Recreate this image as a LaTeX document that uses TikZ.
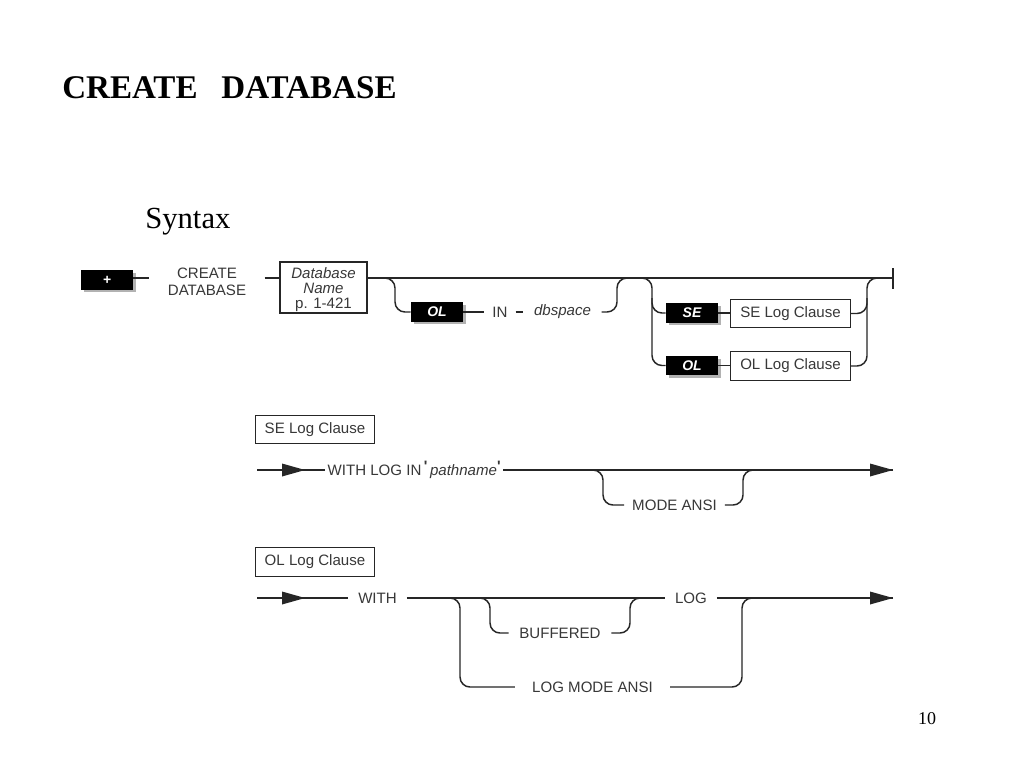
\documentclass[tikz,border=0pt]{standalone}
\usepackage{fontspec}
\setmainfont{Liberation Serif}
\newfontfamily\rrf{Liberation Sans}
\usetikzlibrary{shadows,calc}
\definecolor{linec}{HTML}{262626}
\definecolor{txtc}{HTML}{383838}
\begin{document}
\begin{tikzpicture}[x=0.75pt,y=-0.75pt,
  rr/.style={draw=linec,line width=1.1pt},
  rrc/.style={rr,rounded corners=7.5pt},
  rtxt/.style={font=\rrf\fontsize{11.3}{13}\selectfont,text=txtc,inner ysep=0pt,inner xsep=0pt,outer sep=0pt},
  blk/.style={fill=black,text=white,font=\rrf\bfseries\itshape\fontsize{10.5}{12}\selectfont,
    minimum width=39pt,minimum height=14.5pt,inner sep=0pt,
    drop shadow={shadow xshift=2pt,shadow yshift=-2pt,fill=black!60,opacity=0.5}},
  wbox/.style={draw=linec,line width=0.9pt,fill=white,text=txtc,font=\rrf\fontsize{11.3}{13}\selectfont,
    minimum width=89.5pt,minimum height=21.5pt,inner sep=0pt},
  tri/.style={fill=linec}
]
\useasboundingbox[fill=white] (0,0) rectangle (1024,768);

% titles
\node[anchor=base west,font=\bfseries\fontsize{24.8}{30}\selectfont,inner sep=0pt] (title) at (62,98) {CREATE\hspace{0.72em}DATABASE};
\node[anchor=base west,font=\fontsize{23}{28}\selectfont,inner sep=0pt] (syn) at (145,228) {Syntax};
\node[anchor=base,font=\fontsize{13.5}{16}\selectfont,inner sep=0pt] (pg) at (927,724) {10};

% ---------- main diagram ----------
\coordinate (m0) at (0,278);
\node[blk] (plus) at (107,280) {+};
\node[rtxt,align=center,font=\rrf\fontsize{11.3}{12.75}\selectfont,inner xsep=14pt] (create) at (207,282) {CREATE\\DATABASE};
\node[draw=linec,line width=0.9pt,rtxt,align=center,font=\rrf\fontsize{11.3}{11.25}\selectfont,
  minimum width=65.25pt,minimum height=38.25pt] (db) at (323.5,287.5) {\rule{0pt}{11.5pt}\textit{Database}\\\textit{Name}\\p. 1-421};
\coordinate (endbar) at (893,278);

\draw[rr] (plus.east |- m0) -- (create.west |- m0);
\draw[rr] (create.east |- m0) -- (db.west |- m0);
\draw[rr] (db.east |- m0) -- (endbar);
\draw[rr] ($(endbar)+(0,-10)$) -- ($(endbar)+(0,11)$);

% OL IN dbspace branch
\node[blk] (ol1) at (437,312) {OL};
\node[rtxt,inner xsep=6pt] (in) at (500,312) {IN};
\node[rtxt,inner xsep=8pt] (dbs) at (562.5,312) {\textit{dbspace}};
\coordinate (b1a) at (380,278);
\coordinate (b1v) at (395,278);
\coordinate (b1e) at (617,278);
\draw[rrc] (b1a) -- (b1v) -- (b1v |- ol1.west) -- (ol1.west);
\draw[rr] (ol1.east) -- (ol1.east -| in.west);
\draw[rr] (in.east) -- (in.east -| dbs.west);
\draw[rrc] (dbs.east) -- (dbs.east -| b1e) -- (b1e) -- ($(b1e)+(14,0)$);

% SE / OL branch
\node[blk] (se) at (692,313) {SE};
\node[wbox] (selc) at (790.5,313.5) {SE Log Clause};
\node[blk] (ol2) at (692,365.5) {OL};
\node[wbox] (olc) at (790.5,366) {OL Log Clause};
\coordinate (b2v) at (652,278);
\coordinate (b3v) at (867,278);
\draw[rrc] ($(b2v)+(-14,0)$) -- (b2v) -- (b2v |- ol2.west) -- (ol2.west);
\draw[rrc] ($(b2v)+(0,20)$) -- (b2v |- se.west) -- (se.west);
\draw[rr] (se.east) -- (se.east -| selc.west);
\draw[rr] (ol2.east) -- (ol2.east -| olc.west);
\draw[rrc] (selc.east) -- (selc.east -| b3v) -- (b3v) -- ($(b3v)+(14,0)$);
\draw[rrc] (olc.east) -- (olc.east -| b3v) -- ($(b3v)+(0,20)$);

% ---------- SE Log Clause ----------
\node[wbox] (hdr1) at (315,429.5) {SE Log Clause};
\coordinate (s1) at (257,470);
\coordinate (a1) at (282,470);
\coordinate (e1) at (893,470);
\node[rtxt,anchor=west,inner xsep=2pt] (wl) at (325,470) {WITH LOG IN\,\raisebox{2.5pt}{\textbf{'}}\,\textit{pathname}\raisebox{2.5pt}{\textbf{'}}};
\draw[rr] (s1) -- (wl.west);
\draw[rr] (wl.east) -- (e1);
\fill[tri] (a1) ++(0,-6.5) -- ++(23,6.5) -- ++(-23,6.5) -- cycle;
\fill[tri] (e1) -- ++(-23,-6.5) -- ++(0,13) -- cycle;
\node[rtxt,inner xsep=6pt] (ma) at (674.5,505) {MODE ANSI};
\coordinate (c1) at (603,470);
\coordinate (c2) at (743,470);
\draw[rrc] ($(c1)+(-14,0)$) -- (c1) -- (c1 |- ma.west) -- (ma.west);
\draw[rrc] (ma.east) -- (ma.east -| c2) -- (c2) -- ($(c2)+(14,0)$);

% ---------- OL Log Clause ----------
\node[wbox] (hdr2) at (315,562) {OL Log Clause};
\coordinate (s2) at (257,598);
\coordinate (a2) at (282,598);
\coordinate (e2) at (893,598);
\node[rtxt,inner xsep=7.5pt] (with) at (377.5,598) {WITH};
\node[rtxt,inner xsep=7.5pt] (log) at (691,598) {LOG};
\draw[rr] (s2) -- (with.west);
\draw[rr] (with.east) -- (log.west);
\draw[rr] (log.east) -- (e2);
\fill[tri] (a2) ++(0,-6.5) -- ++(23,6.5) -- ++(-23,6.5) -- cycle;
\fill[tri] (e2) -- ++(-23,-6.5) -- ++(0,13) -- cycle;

\node[rtxt,inner xsep=8pt] (buf) at (560,633) {BUFFERED};
\coordinate (d1) at (490,598);
\coordinate (d2) at (630,598);
\draw[rrc] ($(d1)+(-14,0)$) -- (d1) -- (d1 |- buf.west) -- (buf.west);
\draw[rrc] (buf.east) -- (buf.east -| d2) -- (d2) -- ($(d2)+(14,0)$);

\node[rtxt,inner xsep=13pt] (lma) at (592.5,687) {LOG MODE ANSI};
\coordinate (f1) at (460,598);
\coordinate (f2) at (742,598);
\draw[rrc] ($(f1)+(-14,0)$) -- (f1) -- (f1 |- lma.west) -- (lma.west);
\draw[rrc] (lma.east) -- (lma.east -| f2) -- (f2) -- ($(f2)+(14,0)$);
\end{tikzpicture}
\end{document}
